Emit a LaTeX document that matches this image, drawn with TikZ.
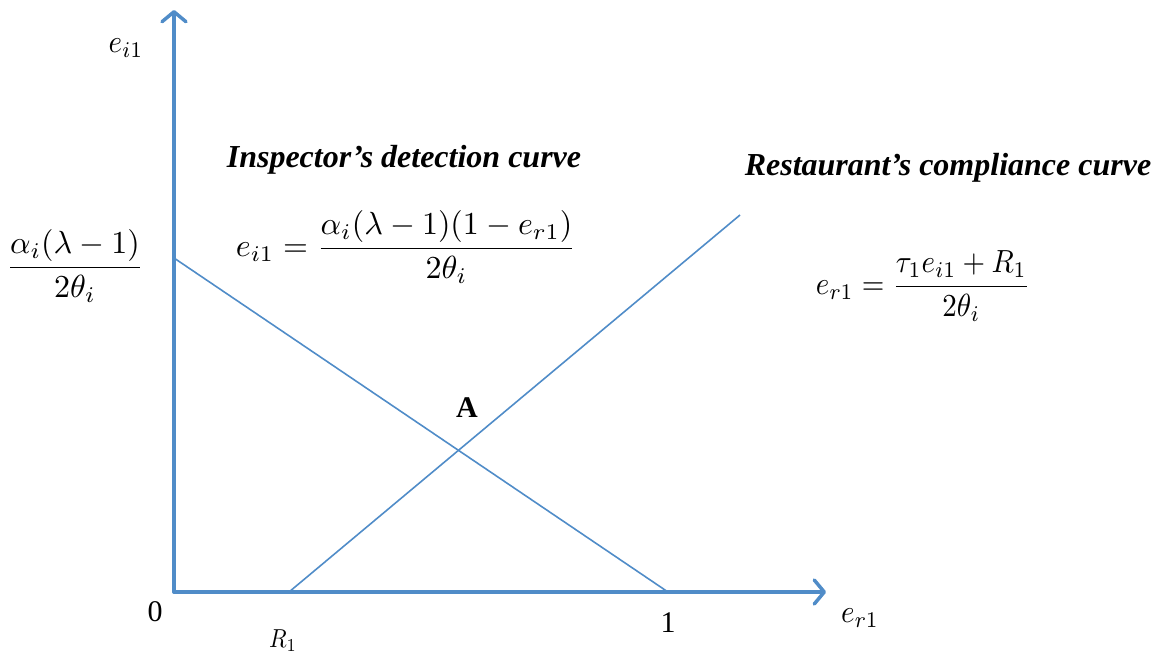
\documentclass[tikz,border=0pt]{standalone}
\usepackage{amsmath}
\usepackage{graphicx}
\usepackage{fontspec}
\setmainfont{Liberation Serif}
\usetikzlibrary{arrows.meta}
\definecolor{axisblue}{RGB}{80,140,200}
\newcommand{\mymath}[2][2.8]{\scalebox{#1}{\normalsize$#2$}}
\newcommand{\mymathxy}[3]{\scalebox{#1}[#2]{\normalsize$#3$}}
\tikzset{
  axis/.style={draw=axisblue, line width=3.5pt, -{Straight Barb[length=10pt,width=24pt,line width=3.5pt,round]}},
  curve/.style={draw=axisblue, line width=1.6pt},
  mathlbl/.style={inner sep=0pt},
  title/.style={font=\fontsize{32}{38}\selectfont\bfseries\itshape, inner sep=0pt},
}
\begin{document}
\begin{tikzpicture}[x=1pt,y=-1pt]
\useasboundingbox (0,0) rectangle (1156,656);
\coordinate (O) at (174,592);
\coordinate (ytop) at (174,10);
\coordinate (xend) at (826,592);
\coordinate (d1) at (174,258);
\coordinate (d2) at (668,592);
\coordinate (c1) at (289,592);
\coordinate (c2) at (740,215);
\draw[curve] (d1) -- (d2);
\draw[curve] (c1) -- (c2);
\draw[axis, line cap=round] (O) -- (ytop);
\draw[axis, line cap=round] (O) -- (xend);
\node[mathlbl] (ylab) at (126,48) {\mymathxy{2.9}{3.2}{e_{i1}}};
\node[mathlbl] (yint) at (75,266) {\mymathxy{3.2}{3.2}{\dfrac{\alpha_i(\lambda-1)}{2\theta_i}}};
\node[title] (insp) at (404,160) {Inspector’s detection curve};
\node[mathlbl] (ieq) at (406,247) {\mymathxy{3.2}{3.2}{e_{i1}=\dfrac{\alpha_i(\lambda-1)(1-e_{r1})}{2\theta_i}}};
\node[title] (rest) at (948,168) {Restaurant’s compliance curve};
\node[mathlbl] (req) at (923,286) {\mymathxy{2.9}{3.2}{e_{r1}=\dfrac{\tau_1 e_{i1}+R_1}{2\theta_i}}};
\node[mathlbl, font=\fontsize{30}{36}\selectfont\bfseries] (A) at (467,408) {A};
\node[mathlbl, font=\fontsize{30}{36}\selectfont] (zero) at (155,612) {0};
\node[mathlbl, font=\fontsize{30}{36}\selectfont] (one) at (668,623) {1};
\node[mathlbl] (R1) at (283,641) {\mymathxy{2.3}{2.6}{R_1}};
\node[mathlbl] (xlab) at (860,618) {\mymathxy{2.9}{3.2}{e_{r1}}};
\end{tikzpicture}
\end{document}
